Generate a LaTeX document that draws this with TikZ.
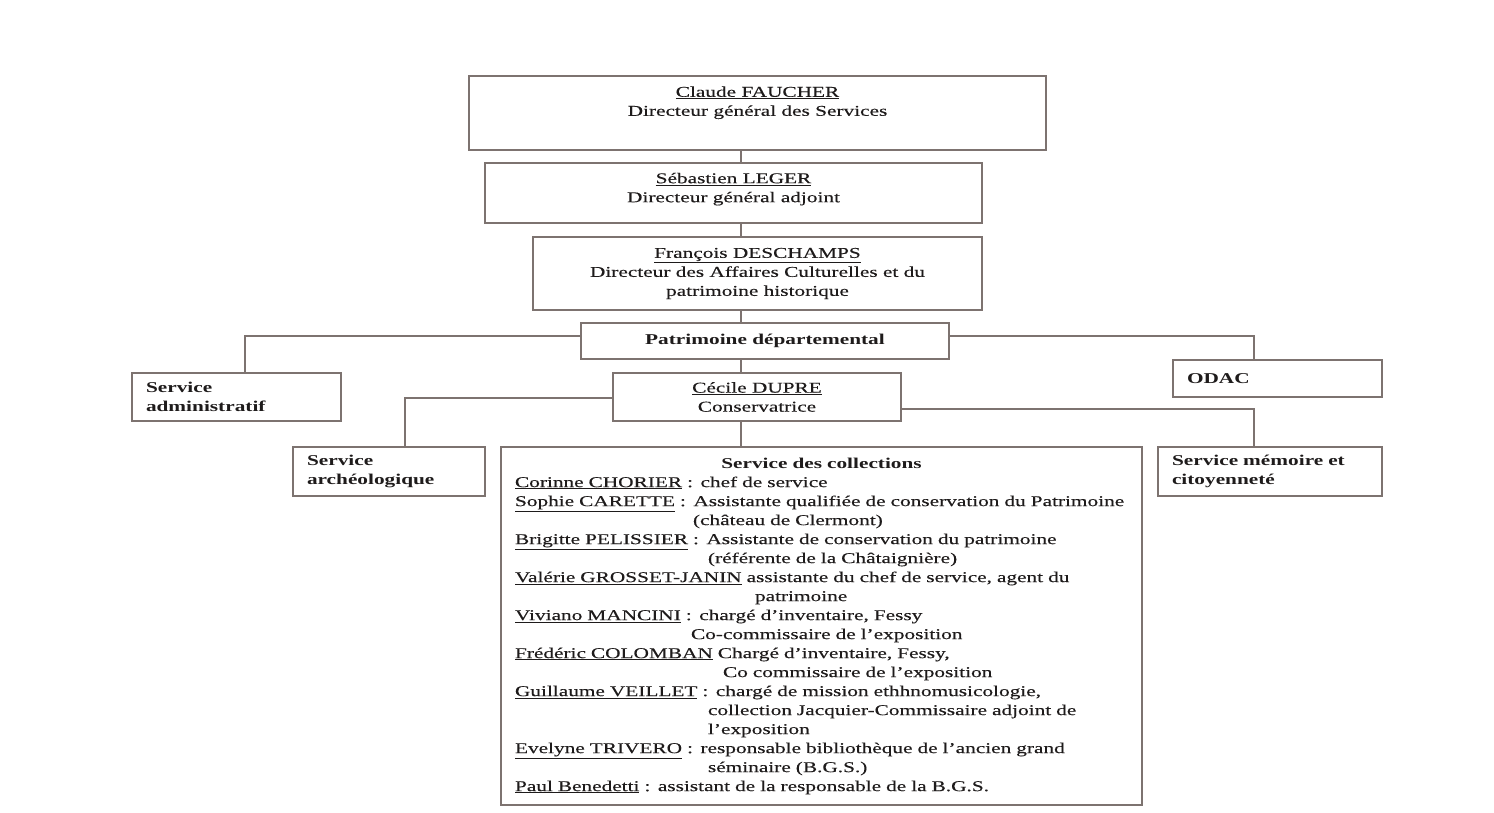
\documentclass[tikz,border=0pt]{standalone}
\usepackage{fontspec}
\setmainfont{Liberation Serif}[FakeStretch=1.42, UprightFeatures={FakeBold=0.3}]
\usetikzlibrary{
		calc,
		positioning
	}
\definecolor{trait}{RGB}{125,115,112}
\definecolor{encre}{RGB}{30,27,27}
\tikzset{
		box/.style={draw=trait, line width=1.6pt, inner sep=0pt, text=encre, align=center,
			font=\fontsize{15}{19}\selectfont},
		lbox/.style={box, align=left, inner xsep=14pt},
		txt/.style={inner sep=0pt, text=encre, align=center, font=\fontsize{15}{19}\selectfont},
		lien/.style={draw=trait, line width=1.6pt}
	}
\newcommand{\nom}[1]{\underline{#1}}

\begin{document}
\begin{tikzpicture}[x=1pt, y=-1pt] % one unit = one pixel of the page, y downwards
		\useasboundingbox (0,0) rectangle (1494,813);
		% direction
		\node[box, minimum width=577pt, minimum height=74pt] (dgs) at (757.5,113) {};
		\node[txt, below=11pt of dgs.north] (dgs-txt) {\nom{Claude FAUCHER}\\Directeur général des Services};
		\node[box, minimum width=497pt, minimum height=60pt] (adj) at (733.5,193) {\nom{Sébastien LEGER}\\Directeur général adjoint\\[-8pt]};
		\node[box, minimum width=449pt, minimum height=73pt] (dac) at (757.5,273.5) {\nom{François DESCHAMPS}\\Directeur des Affaires Culturelles et du\\patrimoine historique};
		\node[box, minimum width=368pt, minimum height=36pt] (pat) at (765,341) {\textbf{Patrimoine départemental}};
		% services
		\node[lbox, text width=181pt, minimum height=48pt] (adm) at (236.5,397) {\textbf{Service}\\\textbf{administratif}};
		\node[lbox, text width=181pt, minimum height=37pt] (odac) at (1277.5,378.5) {\textbf{ODAC}};
		\node[box, minimum width=288pt, minimum height=48pt] (dupre) at (757,397) {\nom{Cécile DUPRE}\\Conservatrice};
		\node[lbox, text width=164pt, minimum height=49pt] (arch) at (389,471.5) {\textbf{Service}\\\textbf{archéologique}};
		\node[lbox, text width=196pt, minimum height=49pt] (mem) at (1270,471.5) {\textbf{Service mémoire et}\\\textbf{citoyenneté}};
		\node[lbox, text width=613pt, minimum height=358pt] (coll) at (821.5,626) {%
			\makebox[613pt]{\textbf{Service des collections}}\\
			\nom{Corinne CHORIER} : chef de service\\
			\nom{Sophie CARETTE} : Assistante qualifiée de conservation du Patrimoine\\
			\hspace*{178pt}(château de Clermont)\\
			\nom{Brigitte PELISSIER} : Assistante de conservation du patrimoine\\
			\hspace*{193pt}(référente de la Châtaignière)\\
			\nom{Valérie GROSSET-JANIN} assistante du chef de service, agent du\\
			\hspace*{240pt}patrimoine\\
			\nom{Viviano MANCINI} : chargé d'inventaire, Fessy\\
			\hspace*{176pt}Co-commissaire de l'exposition\\
			\nom{Frédéric COLOMBAN} Chargé d'inventaire, Fessy,\\
			\hspace*{208pt}Co commissaire de l'exposition\\
			\nom{Guillaume VEILLET} : chargé de mission ethhnomusicologie,\\
			\hspace*{193pt}collection Jacquier-Commissaire adjoint de\\
			\hspace*{193pt}l'exposition\\
			\nom{Evelyne TRIVERO} : responsable bibliothèque de l'ancien grand\\
			\hspace*{193pt}séminaire (B.G.S.)\\
			\nom{Paul Benedetti} : assistant de la responsable de la B.G.S.};
		% liaisons
		\coordinate (axe) at (741,0);
		\draw[lien] (axe |- dgs.south) -- (axe |- adj.north);
		\draw[lien] (axe |- adj.south) -- (axe |- dac.north);
		\draw[lien] (axe |- dac.south) -- (axe |- pat.north);
		\draw[lien] (axe |- pat.south) -- (axe |- dupre.north);
		\draw[lien] (axe |- dupre.south) -- (axe |- coll.north);
		\draw[lien] ([yshift=5pt]pat.west) -| ([xshift=8.5pt]adm.north);
		\draw[lien] ([yshift=5pt]pat.east) -| ([xshift=-23.5pt]odac.north);
		\draw[lien] ([yshift=-1pt]dupre.west) -| ([xshift=16pt]arch.north);
		\draw[lien] ([yshift=-12pt]dupre.east) -| ([xshift=-16pt]mem.north);
	\end{tikzpicture}
\end{document}
